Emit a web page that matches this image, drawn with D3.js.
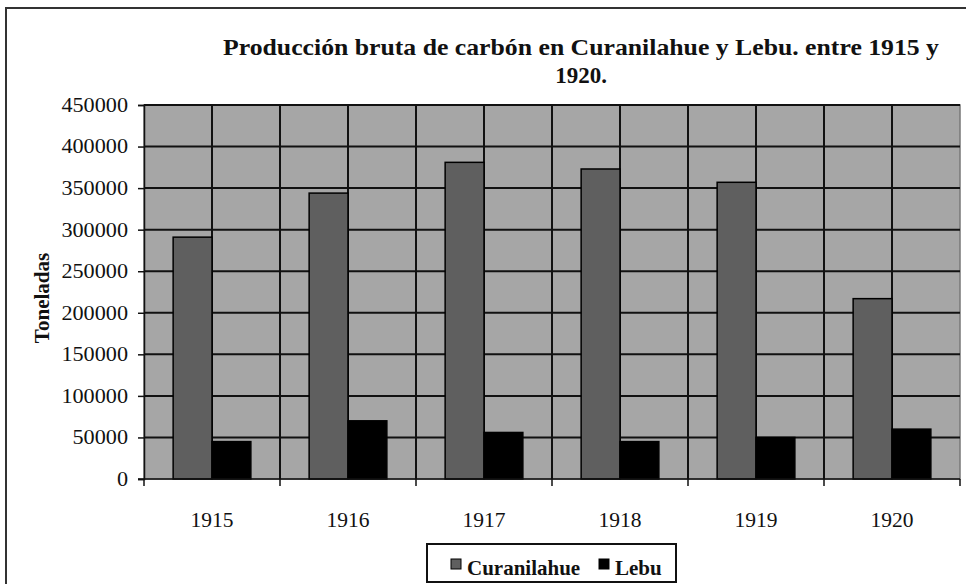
<!DOCTYPE html>
<html>
<head>
<meta charset="utf-8">
<script src="https://cdn.jsdelivr.net/npm/d3@7"></script>
<style>
  body { margin: 0; background: #fff; }
</style>
</head>
<body>
<div id="chart"></div>
<script>
var years = ["1915", "1916", "1917", "1918", "1919", "1920"];
var curanilahue = [291000, 344000, 381000, 373000, 357000, 217000];
var lebu = [45000, 70000, 56000, 45000, 50000, 60000];
var series_names = ["Curanilahue", "Lebu"];
var y_ticks = [0, 50000, 100000, 150000, 200000, 250000, 300000, 350000, 400000, 450000];

var width = 966, height = 584;
var plot = { left: 144, right: 960, top: 105, bottom: 479 };
var colours = { "Curanilahue": "#5f5f5f", "Lebu": "#000000" };
var serif = "Liberation Serif, serif";

var svg = d3.select("#chart").append("svg")
    .attr("width", width)
    .attr("height", height)
    .style("font-family", serif);

// outer chart border
svg.append("rect")
    .attr("x", 6).attr("y", 8)
    .attr("width", 970).attr("height", 600)
    .attr("fill", "#fff")
    .attr("stroke", "#333")
    .attr("stroke-width", 2);

var x = d3.scaleBand()
    .domain(years)
    .range([plot.left, plot.right]);

var x_inner = d3.scaleBand()
    .domain(series_names)
    .range([0, x.bandwidth()])
    .paddingInner(0)
    .paddingOuter(0.75);

var y = d3.scaleLinear()
    .domain([0, 450000])
    .range([plot.bottom, plot.top]);

// plot background
svg.append("rect")
    .attr("x", plot.left).attr("y", plot.top)
    .attr("width", plot.right - plot.left)
    .attr("height", plot.bottom - plot.top)
    .attr("fill", "#a6a6a6")
    .attr("stroke", "#777")
    .attr("stroke-width", 1.5);

// horizontal gridlines
svg.append("g").selectAll("line")
    .data(y_ticks.slice(1))
    .enter().append("line")
    .attr("x1", plot.left).attr("x2", plot.right)
    .attr("y1", function(d) { return y(d); })
    .attr("y2", function(d) { return y(d); })
    .attr("stroke", "#111")
    .attr("stroke-width", 2);

// vertical gridlines every half category
var vlines = [];
years.forEach(function(d) {
    vlines.push(x(d));
    vlines.push(x(d) + x.bandwidth() / 2);
});
svg.append("g").selectAll("line")
    .data(vlines.slice(1))
    .enter().append("line")
    .attr("x1", function(d) { return d; })
    .attr("x2", function(d) { return d; })
    .attr("y1", plot.top).attr("y2", plot.bottom)
    .attr("stroke", "#111")
    .attr("stroke-width", 2);

// bars
var groups = svg.append("g").selectAll("g")
    .data(years)
    .enter().append("g")
    .attr("transform", function(d) { return "translate(" + x(d) + ",0)"; });

groups.selectAll("rect")
    .data(function(d, i) {
        return [
            { name: "Curanilahue", value: curanilahue[i] },
            { name: "Lebu", value: lebu[i] }
        ];
    })
    .enter().append("rect")
    .attr("x", function(d) { return x_inner(d.name); })
    .attr("width", x_inner.bandwidth())
    .attr("y", function(d) { return y(d.value); })
    .attr("height", function(d) { return y(0) - y(d.value); })
    .attr("fill", function(d) { return colours[d.name]; })
    .attr("stroke", "#000")
    .attr("stroke-width", 1.5);

// y axis
var y_axis = svg.append("g")
    .attr("transform", "translate(" + plot.left + ",0)")
    .call(d3.axisLeft(y).tickValues(y_ticks).tickSize(6).tickPadding(10).tickFormat(d3.format("d")));
y_axis.select(".domain").attr("stroke", "#111").attr("stroke-width", 1.5);
y_axis.selectAll(".tick line").attr("stroke", "#111").attr("stroke-width", 1.5);
y_axis.selectAll("text")
    .style("font-family", serif)
    .style("font-size", "20px")
    .attr("textLength", function(d) { return String(d).length * 11.1; })
    .attr("lengthAdjust", "spacingAndGlyphs")
    .attr("fill", "#111");

// x axis
var x_axis = svg.append("g")
    .attr("transform", "translate(0," + plot.bottom + ")");
x_axis.append("line")
    .attr("x1", plot.left - 6).attr("x2", plot.right)
    .attr("stroke", "#111").attr("stroke-width", 1.5);
x_axis.selectAll("line.tick")
    .data(years.concat(["end"]))
    .enter().append("line")
    .attr("class", "tick")
    .attr("x1", function(d) { return d == "end" ? plot.right : x(d); })
    .attr("x2", function(d) { return d == "end" ? plot.right : x(d); })
    .attr("y1", 0).attr("y2", 7)
    .attr("stroke", "#111").attr("stroke-width", 1.5);
x_axis.selectAll("text")
    .data(years)
    .enter().append("text")
    .text(function(d) { return d; })
    .attr("x", function(d) { return x(d) + x.bandwidth() / 2; })
    .attr("y", 48)
    .attr("text-anchor", "middle")
    .attr("textLength", 43)
    .attr("lengthAdjust", "spacingAndGlyphs")
    .style("font-family", serif)
    .style("font-size", "20px")
    .attr("fill", "#111");

// title
var title = svg.append("text")
    .attr("text-anchor", "middle")
    .style("font-family", serif)
    .style("font-weight", "bold")
    .style("font-size", "23px")
    .attr("fill", "#111");
title.append("tspan").attr("x", 581).attr("y", 55)
    .attr("textLength", 716)
    .attr("lengthAdjust", "spacingAndGlyphs")
    .text("Producción bruta de carbón en Curanilahue y Lebu. entre 1915 y");
title.append("tspan").attr("x", 581).attr("y", 83)
    .text("1920.");

// y label
svg.append("text")
    .text("Toneladas")
    .attr("transform", "translate(49,298) rotate(-90)")
    .attr("text-anchor", "middle")
    .style("font-family", serif)
    .style("font-weight", "bold")
    .style("font-size", "21px")
    .attr("fill", "#111");

// legend
var legend = svg.append("g");
legend.append("rect")
    .attr("x", 427).attr("y", 544)
    .attr("width", 249).attr("height", 38)
    .attr("fill", "#fff")
    .attr("stroke", "#111")
    .attr("stroke-width", 2);

var legend_items = legend.selectAll("g.item")
    .data(series_names)
    .enter().append("g")
    .attr("class", "item")
    .attr("transform", function(d, i) { return "translate(" + (i == 0 ? 451 : 599) + ",0)"; });

legend_items.append("rect")
    .attr("x", 0).attr("y", 559)
    .attr("width", 10).attr("height", 10)
    .attr("fill", function(d) { return colours[d]; })
    .attr("stroke", "#000")
    .attr("stroke-width", 1);

legend_items.append("text")
    .text(function(d) { return d; })
    .attr("x", 16).attr("y", 575)
    .style("font-family", serif)
    .style("font-weight", "bold")
    .style("font-size", "21px")
    .attr("fill", "#111");
</script>
</body>
</html>
